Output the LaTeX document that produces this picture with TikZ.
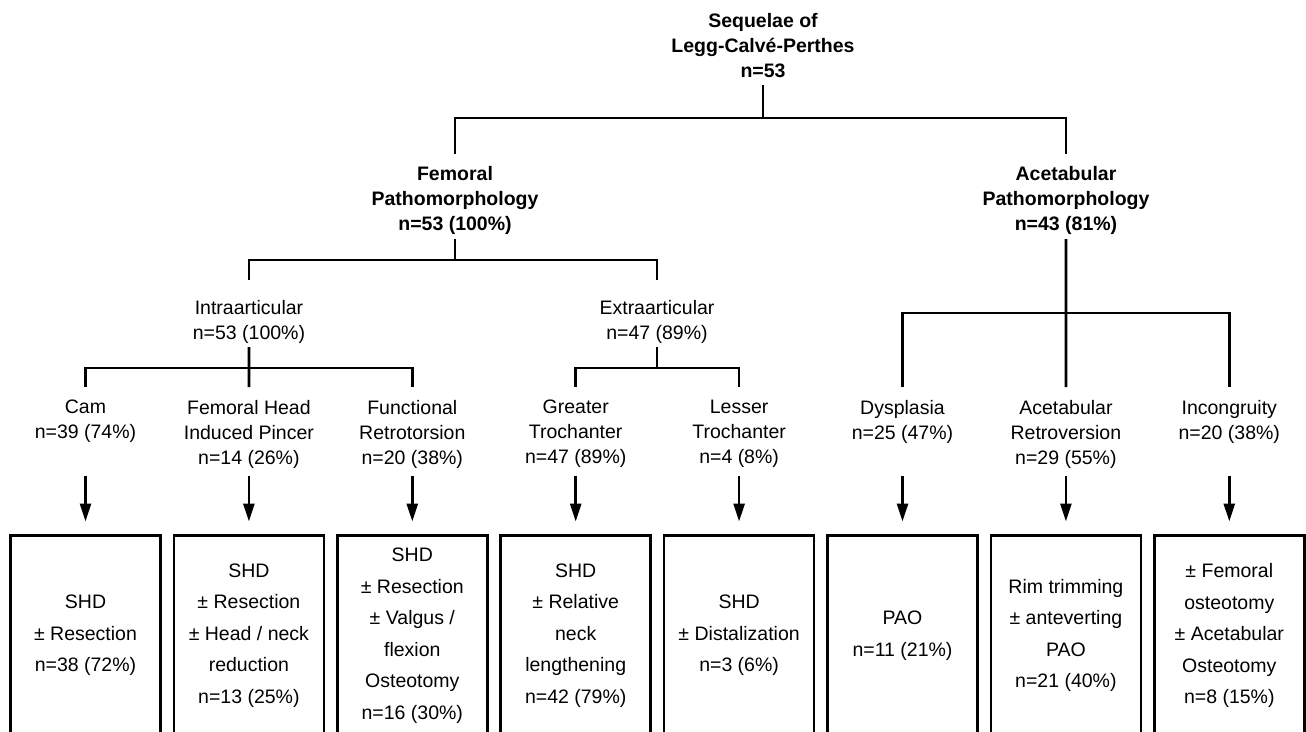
\documentclass[tikz,border=0pt]{standalone}
\usepackage{fontspec}
\setmainfont{Liberation Sans}
\usetikzlibrary{arrows.meta,calc}
\tikzstyle{link}=[draw,line width=2.7pt]
\tikzstyle{arrow}=[draw,line width=2.7pt,-{Triangle[length=18pt,width=11pt]},shorten >=12.5pt]
\tikzstyle{lbl}=[anchor=north,align=center,inner sep=0pt,font=\fontsize{19.5}{25}\selectfont,execute at begin node=\strut,execute at end node=\strut]
\tikzstyle{head}=[lbl,font=\fontsize{19.5}{25}\selectfont\bfseries]
\tikzstyle{treat}=[draw,line width=2.7pt,anchor=north,minimum width=150pt,minimum height=206pt,inner sep=0pt,align=center,font=\fontsize{19.5}{31.5}\selectfont,execute at begin node=\strut,execute at end node=\strut]

\begin{document}
\begin{tikzpicture}[x=1pt,y=-1pt]

  \useasboundingbox (0,0) rectangle (1306,731);
  \clip (0,0) rectangle (1306,731);

  % rails of the tree
  \coordinate (bar1) at (0,118);
  \coordinate (bar2) at (0,260);
  \coordinate (bar3) at (0,368);
  \coordinate (bar4) at (0,313);
  \coordinate (arr) at (0,476);

  \node[head] at (763,13) (root) {Sequelae of\\Legg-Calvé-Perthes\\n=53};

  \node[head] at (455,166) (fem) {Femoral\\Pathomorphology\\n=53 (100\%)};
  \node[head] at (1066,166) (acet) {Acetabular\\Pathomorphology\\n=43 (81\%)};

  \node[lbl] at (249,300) (intra) {Intraarticular\\n=53 (100\%)};
  \node[lbl] at (657,300) (extra) {Extraarticular\\n=47 (89\%)};

  \node[lbl] at (85.5,400) (cam) {Cam\\n=39 (74\%)};
  \node[lbl] at (248.9,400) (fhip) {Femoral Head\\Induced Pincer\\n=14 (26\%)};
  \node[lbl] at (412.3,400) (func) {Functional\\Retrotorsion\\n=20 (38\%)};
  \node[lbl] at (575.7,400) (gt) {Greater\\Trochanter\\n=47 (89\%)};
  \node[lbl] at (739.1,400) (lt) {Lesser\\Trochanter\\n=4 (8\%)};
  \node[lbl] at (902.5,400) (dys) {Dysplasia\\n=25 (47\%)};
  \node[lbl] at (1065.9,400) (ar) {Acetabular\\Retroversion\\n=29 (55\%)};
  \node[lbl] at (1229.3,400) (inc) {Incongruity\\n=20 (38\%)};

  \node[treat] at (85.5,534) (camt) {SHD\\± Resection\\n=38 (72\%)};
  \node[treat] at (248.9,534) (fhipt) {SHD\\± Resection\\± Head / neck\\reduction\\n=13 (25\%)};
  \node[treat] at (412.3,534) (funct) {SHD\\± Resection\\± Valgus /\\flexion\\Osteotomy\\n=16 (30\%)};
  \node[treat] at (575.7,534) (gtt) {SHD\\± Relative\\neck\\lengthening\\n=42 (79\%)};
  \node[treat] at (739.1,534) (ltt) {SHD\\± Distalization\\n=3 (6\%)};
  \node[treat] at (902.5,534) (dyst) {PAO\\n=11 (21\%)};
  \node[treat] at (1065.9,534) (art) {Rim trimming\\± anteverting\\PAO\\n=21 (40\%)};
  \node[treat] at (1229.3,534) (inct) {± Femoral\\osteotomy\\± Acetabular\\Osteotomy\\n=8 (15\%)};

  \draw[link] (root.south) -- (root|-bar1);
  \draw[link,shorten <=12pt,shorten >=12pt] (fem.north) -- (fem|-bar1) -- (acet|-bar1) -- (acet.north);

  \draw[link,shorten <=1pt] (fem.south) -- (fem|-bar2);
  \draw[link,shorten <=20pt,shorten >=20pt] (intra.north) -- (intra|-bar2) -- (extra|-bar2) -- (extra.north);

  \draw[link,shorten >=13pt] (intra.south) -- (fhip.north);
  \draw[link,shorten <=13pt,shorten >=13pt] (cam.north) -- (cam|-bar3) -- (func|-bar3) -- (func.north);

  \draw[link] (extra.south) -- (extra|-bar3);
  \draw[link,shorten <=13pt,shorten >=13pt] (gt.north) -- (gt|-bar3) -- (lt|-bar3) -- (lt.north);

  \draw[link,shorten <=1pt,shorten >=13pt] (acet.south) -- (ar.north);
  \draw[link,shorten <=13pt,shorten >=13pt] (dys.north) -- (dys|-bar4) -- (inc|-bar4) -- (inc.north);

  \draw[arrow] (cam|-arr) -- (camt.north);
  \draw[arrow] (fhip|-arr) -- (fhipt.north);
  \draw[arrow] (func|-arr) -- (funct.north);
  \draw[arrow] (gt|-arr) -- (gtt.north);
  \draw[arrow] (lt|-arr) -- (ltt.north);
  \draw[arrow] (dys|-arr) -- (dyst.north);
  \draw[arrow] (ar|-arr) -- (art.north);
  \draw[arrow] (inc|-arr) -- (inct.north);

\end{tikzpicture}
\end{document}
